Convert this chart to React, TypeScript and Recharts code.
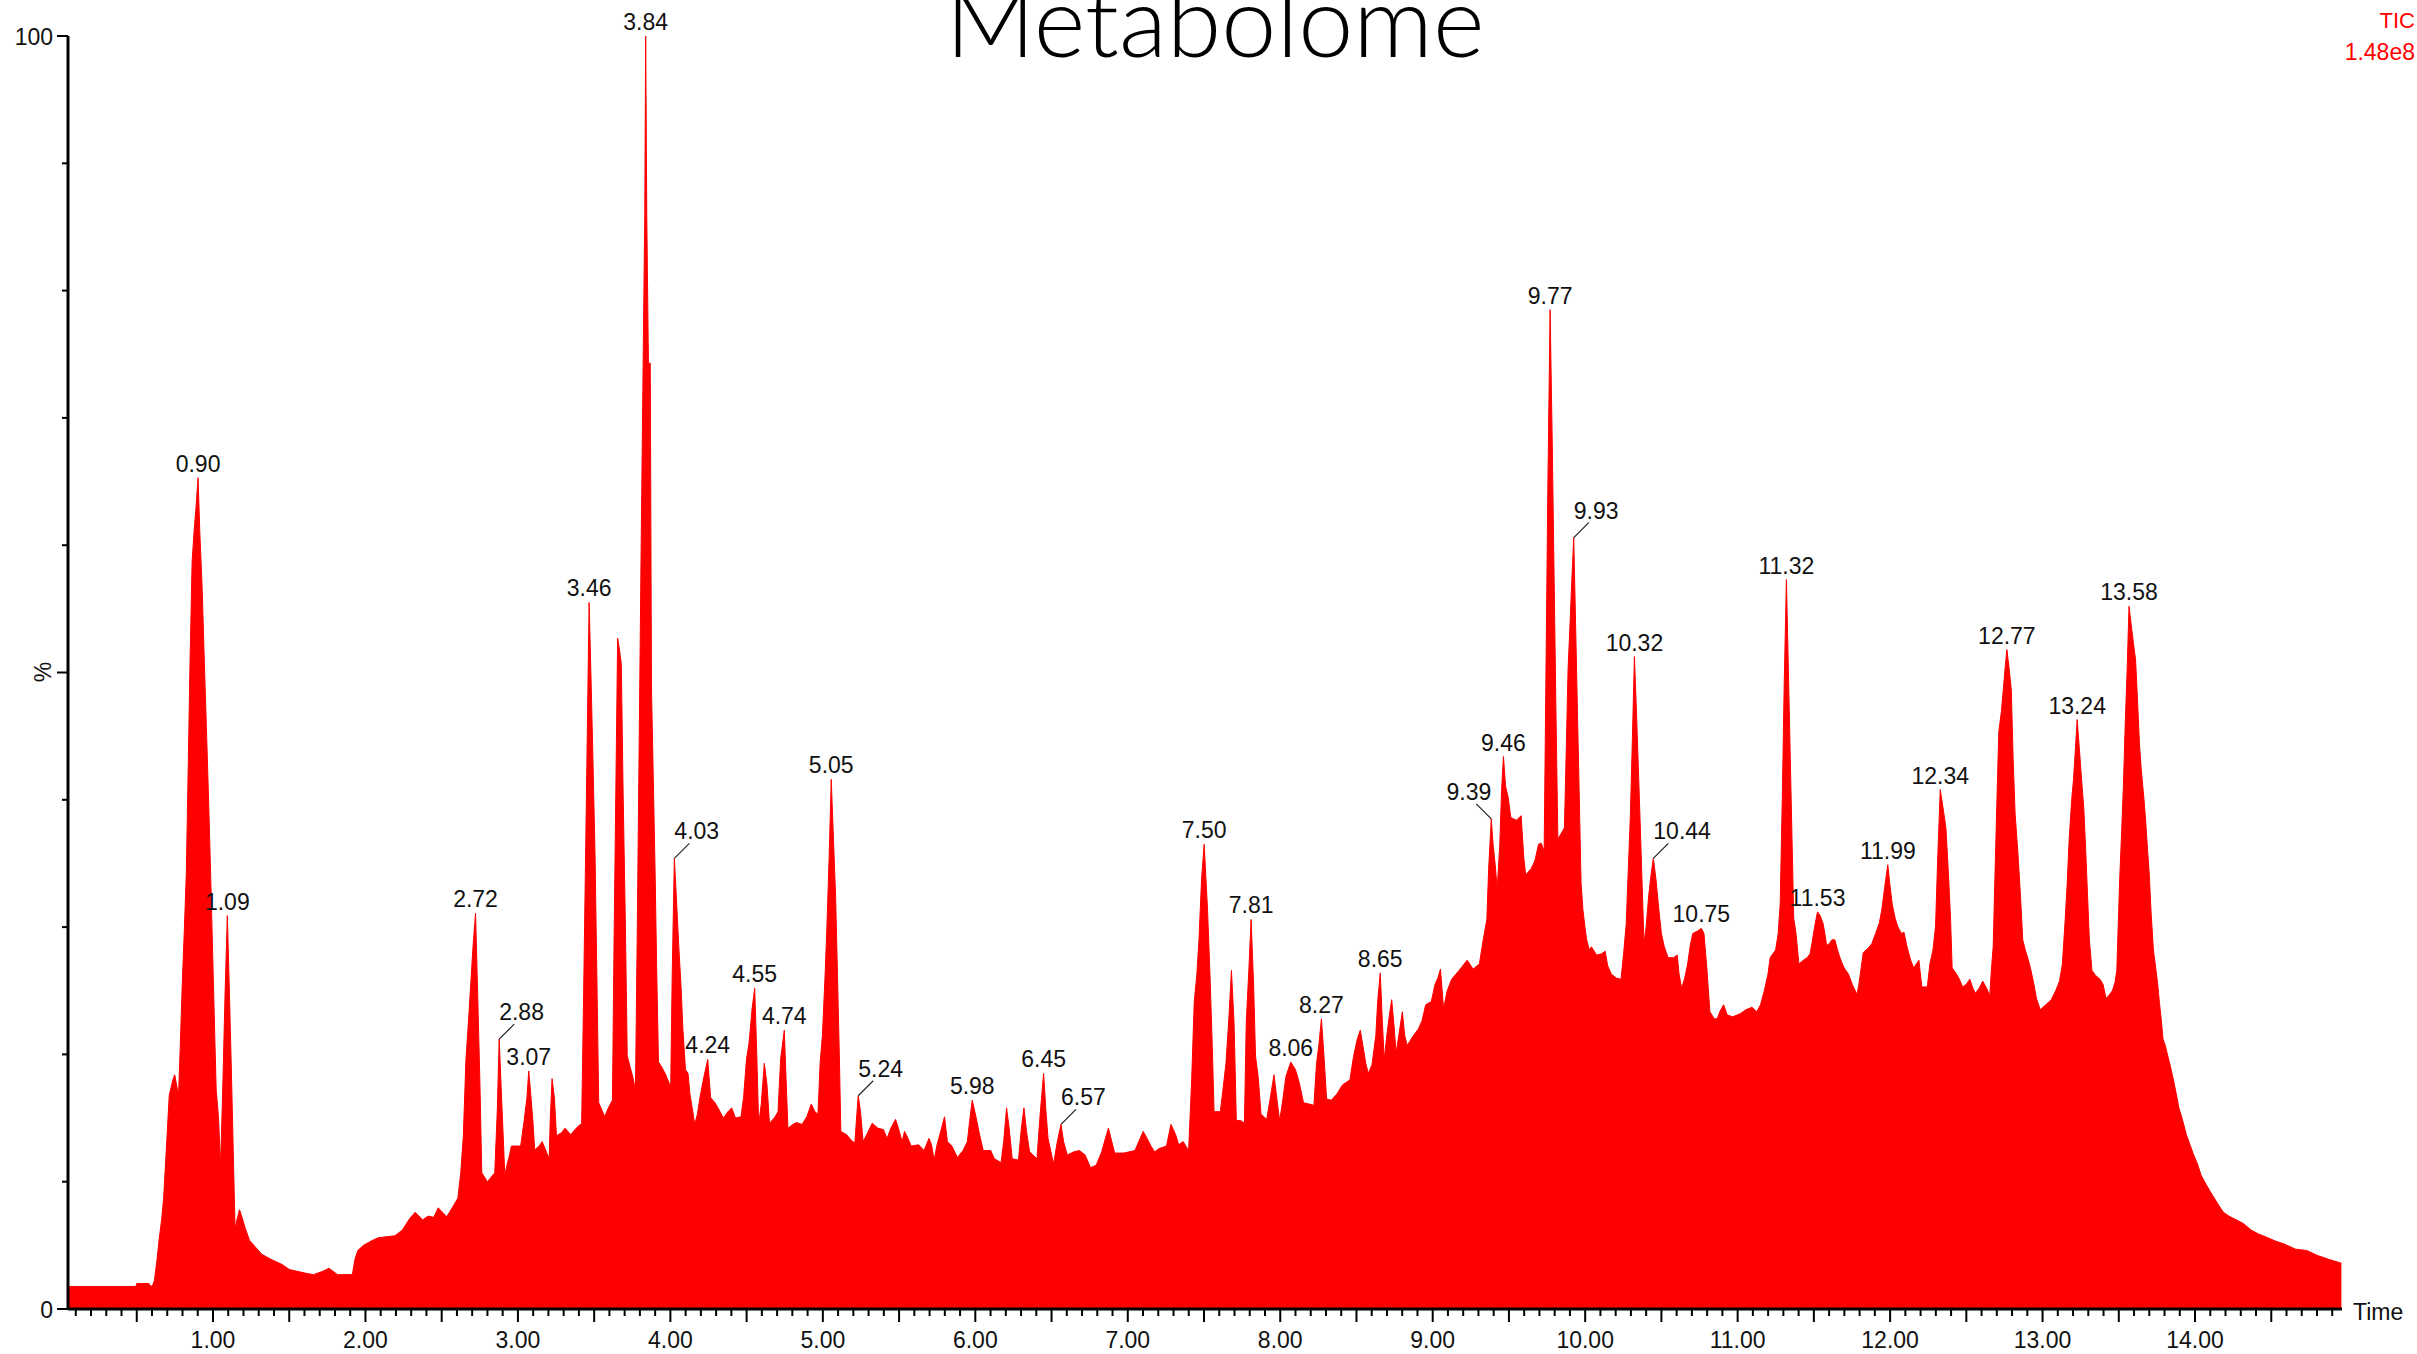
import React from "react";
import { ComposedChart, Area, Scatter, XAxis, YAxis } from "recharts";

type Pt = [number, number];

// [retention time (min), relative intensity (%)]
const solventFront: Pt[] = [
  [0.05, 1.77], [0.494, 1.77], [0.5, 2.0], [0.58, 2.0], [0.59, 1.8], [0.603, 1.8], [0.616, 2.26],
  [0.633, 3.9], [0.647, 5.5], [0.664, 7.1], [0.676, 8.7], [0.689, 11.5], [0.701, 14.1], [0.713, 16.8],
  [0.725, 17.4], [0.737, 18.0], [0.749, 18.4], [0.761, 17.6], [0.774, 16.8], [0.786, 20.9], [0.798, 25.4],
  [0.812, 29.8], [0.825, 34.2], [0.837, 42.3], [0.849, 50.6], [0.863, 58.7], [0.875, 60.9], [0.89, 63.2],
  [0.902, 65.3], [0.914, 60.9], [0.929, 56.6], [0.943, 50.9], [0.958, 45.2], [0.972, 39.6], [0.985, 33.9],
  [0.997, 28.3], [1.009, 22.7], [1.021, 17.2], [1.036, 15.1], [1.05, 11.3], [1.065, 17.8], [1.079, 24.7],
  [1.094, 30.9], [1.108, 24.7], [1.121, 18.5], [1.133, 12.3], [1.145, 6.3], [1.157, 7.0], [1.174, 7.8],
  [1.193, 7.1], [1.21, 6.4],
];

const earlyBaseline: Pt[] = [
  [1.239, 5.4], [1.283, 4.8], [1.32, 4.3], [1.38, 3.9], [1.453, 3.5], [1.501, 3.1], [1.611, 2.8],
  [1.659, 2.7], [1.72, 2.96], [1.761, 3.2], [1.817, 2.7], [1.914, 2.7], [1.931, 3.9], [1.95, 4.6],
  [1.987, 5.0], [2.047, 5.4], [2.084, 5.6], [2.193, 5.75], [2.242, 6.2], [2.29, 7.1], [2.326, 7.6],
  [2.375, 7.0], [2.411, 7.3], [2.448, 7.2], [2.477, 7.95], [2.533, 7.25], [2.569, 7.95], [2.606, 8.7],
  [2.625, 10.7],
];

const polarRegion: Pt[] = [
  [2.642, 13.6], [2.659, 19.6], [2.676, 22.65], [2.691, 25.6], [2.705, 28.4], [2.722, 31.1], [2.737, 24.3],
  [2.751, 17.6], [2.763, 10.7], [2.8, 10.0], [2.848, 10.7], [2.865, 15.7], [2.877, 21.2], [2.89, 17.4],
  [2.902, 14.0], [2.914, 10.5], [2.928, 11.3], [2.945, 12.1], [2.957, 12.8], [3.018, 12.8], [3.042, 14.9],
  [3.059, 16.6], [3.071, 18.7], [3.086, 16.6], [3.098, 14.8], [3.11, 12.5], [3.139, 12.8], [3.159, 13.15],
  [3.188, 12.3], [3.205, 11.8], [3.212, 14.9], [3.224, 18.1], [3.239, 16.6], [3.253, 13.6], [3.285, 13.85],
  [3.309, 14.2], [3.346, 13.7], [3.382, 14.2], [3.418, 14.6], [3.431, 24.8], [3.443, 34.9], [3.455, 45.2],
  [3.467, 55.5], [3.481, 48.8], [3.494, 42.1], [3.506, 35.5], [3.518, 26.0], [3.53, 16.2], [3.552, 15.6],
  [3.569, 15.1], [3.593, 15.8], [3.62, 16.4], [3.63, 28.4], [3.642, 40.5], [3.654, 52.7], [3.666, 51.8],
  [3.678, 50.7], [3.69, 40.5], [3.705, 30.1], [3.717, 19.9],
];

const basePeakRegion: Pt[] = [
  [3.735, 19.05], [3.754, 18.2], [3.771, 17.2], [3.784, 31.1], [3.796, 45.3], [3.808, 59.6], [3.82, 73.0],
  [3.832, 86], [3.838, 100], [3.845, 86], [3.856, 74.3], [3.868, 74.3], [3.876, 48.8], [3.888, 41.6],
  [3.9, 34.2], [3.91, 26.8], [3.922, 19.4], [3.941, 19.05], [3.966, 18.5], [3.983, 18.0], [4.002, 17.45],
  [4.012, 26.3], [4.026, 35.4], [4.041, 31.9], [4.055, 28.5], [4.07, 25.3], [4.082, 22.0], [4.099, 18.8],
  [4.116, 18.5], [4.128, 16.9], [4.143, 15.8], [4.16, 14.5], [4.177, 15.3], [4.196, 16.75], [4.22, 18.25],
  [4.245, 19.6], [4.264, 16.6], [4.293, 16.2], [4.317, 15.7], [4.347, 15.0], [4.378, 15.5], [4.402, 15.8],
  [4.427, 15.0], [4.463, 15.1], [4.48, 16.6], [4.499, 19.6], [4.516, 20.9], [4.536, 23.6], [4.553, 25.2],
  [4.567, 19.85], [4.579, 14.5], [4.596, 16.1], [4.616, 19.3], [4.633, 17.7], [4.65, 14.6], [4.681, 15.0],
  [4.706, 15.5], [4.723, 19.6], [4.747, 21.9], [4.759, 18.0], [4.771, 14.2], [4.803, 14.5], [4.827, 14.65],
  [4.863, 14.5], [4.895, 15.1], [4.924, 16.1], [4.948, 15.5], [4.968, 15.3], [4.982, 19.3], [4.997, 21.5],
  [5.014, 26.0], [5.026, 29.8], [5.041, 35.4], [5.055, 41.6], [5.07, 36.8], [5.084, 32.3], [5.096, 26.2],
  [5.108, 20.0], [5.118, 13.95], [5.155, 13.7], [5.191, 13.2],
];

const midPlateau: Pt[] = [
  [5.21, 13.05], [5.22, 14.8], [5.232, 16.75], [5.247, 15.5], [5.264, 13.15], [5.288, 13.7], [5.324, 14.6],
  [5.361, 14.2], [5.397, 14.1], [5.421, 13.4], [5.446, 14.2], [5.477, 14.9], [5.502, 13.95], [5.519, 13.15],
  [5.536, 13.95], [5.555, 13.5], [5.579, 12.8], [5.628, 12.9], [5.664, 12.45], [5.696, 13.4], [5.713, 12.9],
  [5.73, 11.7], [5.749, 12.9], [5.773, 13.95], [5.798, 15.1], [5.817, 13.15], [5.846, 12.8], [5.883, 11.9],
  [5.919, 12.45], [5.948, 13.15], [5.963, 14.8], [5.98, 16.4], [6.004, 15.1], [6.028, 13.7], [6.052, 12.45],
  [6.101, 12.45], [6.125, 11.8], [6.169, 11.5], [6.186, 13.15], [6.205, 15.8], [6.222, 14.2], [6.242, 11.8],
  [6.283, 11.7], [6.302, 14.2], [6.319, 15.8], [6.336, 13.95], [6.356, 12.35], [6.404, 11.8], [6.424, 15.1],
  [6.448, 18.5], [6.463, 15.6], [6.477, 13.4], [6.496, 12.35], [6.513, 11.4], [6.538, 13.15], [6.562, 14.5],
  [6.579, 13.15], [6.603, 12.1], [6.647, 12.35], [6.683, 12.45], [6.72, 12.1], [6.756, 11.1], [6.793, 11.3],
  [6.829, 12.35], [6.853, 13.4], [6.873, 14.2], [6.895, 13.15], [6.914, 12.25], [6.975, 12.25], [7.047, 12.45],
  [7.072, 13.15], [7.101, 13.95], [7.127, 13.4], [7.152, 12.8], [7.176, 12.35], [7.205, 12.6], [7.254, 12.8],
  [7.283, 14.5], [7.314, 13.7], [7.334, 12.9], [7.363, 13.15], [7.399, 12.45], [7.419, 18.0], [7.436, 24.15],
  [7.453, 26.3], [7.467, 29.0], [7.484, 33.8], [7.501, 36.5],
];

const risingRegion: Pt[] = [
  [7.523, 31.4], [7.54, 26.0], [7.554, 20.7], [7.566, 15.5], [7.607, 15.5], [7.624, 17.2], [7.644, 19.3],
  [7.663, 22.8], [7.68, 26.6], [7.697, 22.5], [7.712, 14.8], [7.741, 14.8], [7.765, 14.6], [7.777, 22.5],
  [7.794, 26.6], [7.809, 30.6], [7.826, 25.2], [7.838, 19.85], [7.855, 18.25], [7.874, 15.3], [7.911, 14.9],
  [7.935, 16.6], [7.959, 18.4], [7.979, 16.4], [7.996, 14.8], [8.013, 16.1], [8.037, 18.25], [8.069, 19.4],
  [8.1, 18.8], [8.124, 17.8], [8.153, 16.2], [8.19, 16.1], [8.221, 16.0], [8.238, 19.3], [8.255, 20.9],
  [8.27, 22.8], [8.287, 19.85], [8.304, 16.5], [8.335, 16.4], [8.372, 16.9], [8.408, 17.6], [8.457, 18.0],
  [8.481, 19.85], [8.505, 21.2], [8.525, 21.9], [8.542, 20.7], [8.561, 19.3], [8.578, 18.5], [8.602, 19.2],
  [8.627, 21.5], [8.639, 24.15], [8.656, 26.4], [8.67, 22.5], [8.682, 19.6], [8.699, 21.5], [8.716, 23.1],
  [8.731, 24.3], [8.748, 22.0], [8.76, 20.1], [8.784, 22.0], [8.801, 23.35], [8.816, 21.5], [8.833, 20.7],
  [8.869, 21.4], [8.906, 22.0], [8.93, 22.65], [8.954, 23.9], [8.991, 24.15], [9.015, 25.5], [9.034, 26.0],
  [9.051, 26.7], [9.071, 23.6], [9.095, 25.0], [9.124, 25.9], [9.173, 26.6],
];

const lipidRegion: Pt[] = [
  [9.226, 27.4], [9.265, 26.7], [9.306, 27.1], [9.33, 28.9], [9.355, 30.6], [9.367, 34.6], [9.384, 38.5],
  [9.396, 36.5], [9.41, 34.9], [9.423, 33.0], [9.44, 36.5], [9.452, 40.8], [9.464, 43.4], [9.478, 41.05],
  [9.495, 40.2], [9.512, 38.6], [9.549, 38.4], [9.58, 38.75], [9.597, 35.5], [9.61, 34.1], [9.646, 34.6],
  [9.67, 35.2], [9.694, 36.5], [9.711, 36.6], [9.731, 36.0], [9.743, 50.2], [9.755, 64.3], [9.77, 78.5],
  [9.784, 68.05], [9.796, 57.7], [9.808, 47.2], [9.821, 36.9], [9.84, 37.3], [9.864, 37.8], [9.876, 44.0],
  [9.888, 50.3], [9.901, 53.9], [9.913, 57.4], [9.925, 60.6], [9.937, 53.9], [9.949, 47.1], [9.961, 40.4],
  [9.973, 33.5], [9.985, 31.4], [9.998, 30.05], [10.01, 29.0], [10.027, 28.2], [10.041, 28.45], [10.075, 27.8],
  [10.107, 27.9], [10.131, 28.1], [10.148, 26.95], [10.172, 26.3], [10.204, 26.0], [10.235, 25.9], [10.252, 27.9],
  [10.269, 30.2], [10.284, 34.9], [10.296, 38.6], [10.308, 44.0], [10.323, 51.25], [10.337, 46.7], [10.35, 42.1],
  [10.362, 37.7], [10.374, 33.2], [10.386, 28.7], [10.4, 30.05], [10.417, 32.5], [10.432, 34.1], [10.447, 35.4],
  [10.464, 33.8], [10.483, 31.4], [10.5, 29.5], [10.519, 28.45], [10.544, 27.6], [10.58, 27.6], [10.604, 27.8],
  [10.616, 26.3], [10.633, 25.2], [10.653, 26.0], [10.672, 27.1], [10.689, 28.55], [10.706, 29.5], [10.738, 29.7],
  [10.762, 29.9], [10.779, 29.5], [10.798, 26.8], [10.818, 23.35], [10.847, 22.8], [10.866, 22.8], [10.883, 23.35],
  [10.908, 23.9], [10.932, 23.1], [10.968, 22.95], [11.017, 23.2], [11.053, 23.5], [11.094, 23.7], [11.126, 23.35],
  [11.15, 23.9], [11.175, 25.0], [11.199, 26.3],
];

const lateRegion: Pt[] = [
  [11.213, 27.6], [11.249, 28.2], [11.266, 29.5], [11.279, 31.8], [11.293, 40.2], [11.305, 48.8], [11.32, 57.3],
  [11.332, 50.6], [11.344, 44.0], [11.356, 37.3], [11.368, 30.7], [11.383, 29.5], [11.402, 27.1], [11.431, 27.4],
  [11.456, 27.6], [11.475, 27.9], [11.487, 28.7], [11.499, 29.6], [11.514, 30.6], [11.524, 31.2], [11.541, 30.9],
  [11.56, 30.3], [11.572, 29.5], [11.584, 28.55], [11.601, 28.7], [11.618, 29.0], [11.638, 29.0], [11.655, 28.2],
  [11.674, 27.5], [11.698, 26.8], [11.727, 26.3], [11.752, 25.5], [11.783, 24.7], [11.795, 25.5], [11.808, 26.6],
  [11.824, 28.0], [11.856, 28.35], [11.88, 28.7], [11.905, 29.5], [11.929, 30.3], [11.946, 31.4], [11.96, 32.7],
  [11.973, 33.9], [11.985, 34.9], [11.997, 33.5], [12.014, 31.8], [12.033, 30.7], [12.05, 30.05], [12.074, 29.5],
  [12.091, 29.6], [12.111, 28.45], [12.135, 27.4], [12.155, 26.8], [12.172, 27.1], [12.189, 27.4], [12.208, 25.3],
  [12.244, 25.3], [12.261, 27.1], [12.281, 28.2], [12.298, 30.05], [12.312, 35.3], [12.329, 40.8], [12.346, 39.45],
  [12.366, 37.8], [12.383, 34.1], [12.397, 30.5], [12.407, 26.8], [12.431, 26.4], [12.455, 25.9], [12.475, 25.3],
  [12.499, 25.5], [12.523, 25.9], [12.543, 25.2], [12.56, 24.8], [12.584, 25.2], [12.608, 25.75], [12.633, 25.2],
  [12.654, 24.6], [12.664, 26.6], [12.676, 28.45], [12.688, 34.1], [12.7, 39.7], [12.713, 45.35], [12.73, 46.95],
  [12.742, 48.6], [12.754, 50.3], [12.766, 51.8], [12.781, 50.3], [12.795, 48.6], [12.807, 43.2], [12.82, 38.9],
  [12.839, 35.7], [12.856, 32.3], [12.87, 29.0], [12.887, 28.2], [12.907, 27.4], [12.924, 26.6], [12.941, 25.65],
  [12.96, 24.4], [12.985, 23.5], [13.021, 23.9], [13.057, 24.3], [13.086, 25.0], [13.111, 25.75], [13.13, 27.1],
  [13.147, 30.3], [13.162, 33.5], [13.174, 36.8], [13.191, 40.0], [13.203, 41.6], [13.215, 43.9], [13.227, 46.3],
  [13.242, 43.9], [13.256, 41.6], [13.271, 39.2], [13.283, 36.0], [13.295, 32.5], [13.307, 29.0], [13.324, 26.6],
  [13.348, 26.2], [13.377, 25.9], [13.397, 25.5], [13.416, 24.4], [13.433, 24.6], [13.458, 25.0], [13.475, 25.65],
  [13.487, 26.6], [13.496, 30.05], [13.506, 33.8], [13.518, 37.3], [13.53, 41.05], [13.542, 45.9], [13.555, 50.3],
  [13.567, 55.2], [13.581, 53.8], [13.596, 52.3], [13.61, 51.0], [13.623, 47.8], [13.635, 44.5], [13.647, 42.4],
  [13.664, 40.2], [13.676, 38.4], [13.688, 36.2], [13.7, 34.1], [13.712, 31.1], [13.727, 28.2], [13.742, 26.8],
  [13.754, 25.65], [13.766, 24.15], [13.778, 22.8], [13.79, 21.2], [13.805, 20.7], [13.822, 19.85], [13.839, 19.05],
  [13.858, 18.0], [13.877, 16.9], [13.894, 15.8], [13.919, 14.8], [13.943, 13.7], [13.967, 12.9], [13.991, 12.1],
  [14.016, 11.4], [14.04, 10.5], [14.072, 9.8], [14.101, 9.2], [14.137, 8.5], [14.169, 7.9], [14.186, 7.6],
  [14.222, 7.3], [14.271, 7.0], [14.319, 6.7], [14.368, 6.2], [14.416, 5.9], [14.477, 5.6], [14.525, 5.35],
  [14.586, 5.1], [14.659, 4.7], [14.732, 4.6], [14.804, 4.2], [14.877, 3.9], [14.96, 3.6],
];

const peakLabels = [
  "0.90", "1.09", "2.72", "2.88", "3.07", "3.46", "3.84", "4.03", "4.24", "4.55", "4.74", "5.05",
  "5.24", "5.98", "6.45", "6.57", "7.50", "7.81", "8.06", "8.27", "8.65", "9.39", "9.46", "9.77",
  "9.93", "10.32", "10.44", "10.75", "11.32", "11.53", "11.99", "12.34", "12.77", "13.24", "13.58",
];
// labels drawn beside their peak with a short leader line
const leaderRight = ["2.88", "4.03", "5.24", "6.57", "9.93", "10.44"];
const leaderLeft = ["9.39"];

const timeTicks = Array.from({ length: 149 }, (_, i) => (i + 1) / 10);
const pctTicks = [0, 10, 20, 30, 40, 50, 60, 70, 80, 90, 100];

const trace = [
  ...solventFront, ...earlyBaseline, ...polarRegion, ...basePeakRegion,
  ...midPlateau, ...risingRegion, ...lipidRegion, ...lateRegion,
].map(([t, v]) => ({ t, v }));

// put each label on the highest scan near its retention time
const peaks = peakLabels.map((label) => {
  const rt = parseFloat(label);
  let best = trace[0];
  let found = false;
  for (const p of trace) {
    if (Math.abs(p.t - rt) <= 0.025 && (!found || p.v > best.v)) {
      best = p;
      found = true;
    }
  }
  return { t: best.t, v: best.v, label };
});

const font = "'Liberation Sans', Arial, sans-serif";
const ink = "#111";

function TimeTick(props: any) {
  const { x, y, payload } = props;
  const k = Math.round(payload.value * 10);
  const len = k % 5 === 0 ? 13 : 7;
  return (
    <g>
      <line x1={x} x2={x} y1={y} y2={y + len} stroke="#000" strokeWidth={2} />
      {k % 10 === 0 && (
        <text x={x} y={y + 39} textAnchor="middle" fontSize={23} fontFamily={font} fill={ink}>
          {(k / 10).toFixed(2)}
        </text>
      )}
    </g>
  );
}

function PctTick(props: any) {
  const { x, y, payload } = props;
  const v = payload.value;
  const len = v % 50 === 0 ? 11 : 6;
  return (
    <g>
      <line x1={x - len} x2={x} y1={y} y2={y} stroke="#000" strokeWidth={2} />
      {(v === 0 || v === 100) && (
        <text x={x - 15} y={y + 8.5} textAnchor="end" fontSize={23} fontFamily={font} fill={ink}>
          {v}
        </text>
      )}
    </g>
  );
}

function PeakLabel(props: any) {
  const { cx, cy, payload } = props;
  const side = leaderRight.includes(payload.label) ? 1 : leaderLeft.includes(payload.label) ? -1 : 0;
  if (side !== 0) {
    return (
      <g>
        <line x1={cx} y1={cy} x2={cx + side * 15} y2={cy - 15} stroke="#222" strokeWidth={1.2} />
        <text
          x={cx}
          y={cy - 19}
          textAnchor={side > 0 ? "start" : "end"}
          fontSize={23}
          fontFamily={font}
          fill={ink}
        >
          {payload.label}
        </text>
      </g>
    );
  }
  return (
    <text x={cx} y={cy - 6} textAnchor="middle" fontSize={23} fontFamily={font} fill={ink}>
      {payload.label}
    </text>
  );
}

export default function App() {
  return (
    <div style={{ position: "absolute", left: 0, top: 0, width: 2417, height: 1354, background: "#fff" }}>
      <ComposedChart
        width={2417}
        height={1354}
        data={trace}
        margin={{ top: 36, right: 75, bottom: 5, left: 8 }}
      >
        <XAxis
          type="number"
          dataKey="t"
          domain={[0.049, 14.964]}
          ticks={timeTicks}
          interval={0}
          height={40}
          tickSize={0}
          tickMargin={0}
          tickLine={false}
          tick={<TimeTick />}
          axisLine={{ stroke: "#000", strokeWidth: 3 }}
        />
        <YAxis
          type="number"
          dataKey="v"
          domain={[0, 100]}
          ticks={pctTicks}
          interval={0}
          width={60}
          tickSize={0}
          tickMargin={0}
          tickLine={false}
          tick={<PctTick />}
          axisLine={{ stroke: "#000", strokeWidth: 3 }}
        />
        <Area
          type="linear"
          dataKey="v"
          stroke="#ff0000"
          strokeWidth={1}
          fill="#ff0000"
          fillOpacity={1}
          dot={false}
          activeDot={false}
          isAnimationActive={false}
        />
        <Scatter data={peaks} dataKey="v" shape={<PeakLabel />} isAnimationActive={false} />
      </ComposedChart>
      <svg
        width={2417}
        height={1354}
        style={{ position: "absolute", left: 0, top: 0, pointerEvents: "none" }}
      >
        <text
          x={1215}
          y={57}
          textAnchor="middle"
          fontSize={98}
          fontFamily="Lato, 'Open Sans', sans-serif"
          fontWeight={300}
          textLength={539}
          lengthAdjust="spacingAndGlyphs"
          fill="#000"
        >
          Metabolome
        </text>
        <text x={2415} y={28} textAnchor="end" fontSize={22} fontFamily={font} fill="#ff0000">
          TIC
        </text>
        <text x={2415} y={60} textAnchor="end" fontSize={23} fontFamily={font} fill="#ff0000">
          1.48e8
        </text>
        <text
          x={43}
          y={672}
          transform="rotate(-90 43 672)"
          textAnchor="middle"
          dominantBaseline="central"
          fontSize={23}
          fontFamily={font}
          fill={ink}
        >
          %
        </text>
        <text x={2353} y={1320} fontSize={23} fontFamily={font} fill={ink}>
          Time
        </text>
      </svg>
    </div>
  );
}
